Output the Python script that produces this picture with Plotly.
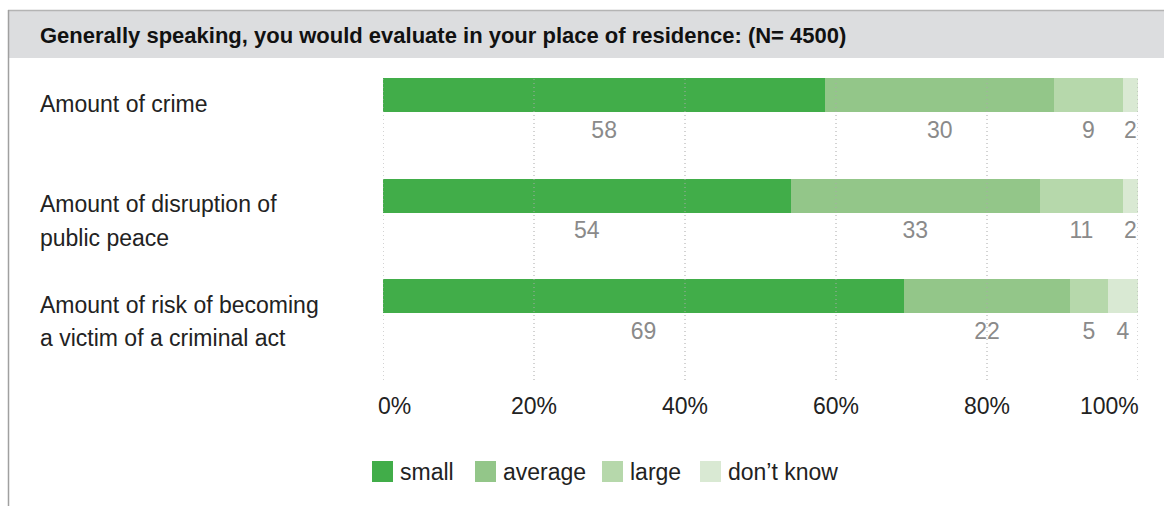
import plotly.graph_objects as go

# ---------------- data ----------------
title_text = "Generally speaking, you would evaluate in your place of residence: (N= 4500)"
categories = [
    "Amount of crime",
    "Amount of disruption of<br>public peace",
    "Amount of risk of becoming<br>a victim of a criminal act",
]
series_names = ["small", "average", "large", "don\u2019t know"]
small = [58, 54, 69]
average = [30, 33, 22]
large = [9, 11, 5]
dont_know = [2, 2, 4]
tick_vals = [0, 20, 40, 60, 80, 100]
tick_labels = ["0%", "20%", "40%", "60%", "80%", "100%"]

# ---------------- styling ----------------
colors = ["#41ad49", "#93c689", "#b6d8ab", "#d9e9d3"]
FONT = "Liberation Sans, Arial, sans-serif"
W, H = 1164, 506
ML, MR, MT, MB = 383, 26, 78, 126
PW, PH = W - ML - MR, H - MT - MB
ROW_PX = 100.5
BAR_PX = 34


def px(x):
    return (x - ML) / PW


def py(y):
    return (H - MB - y) / PH


series = [small, average, large, dont_know]
n = len(categories)
rows = list(range(n))
bar_w = BAR_PX / ROW_PX
y_top = -bar_w / 2
y_bot = y_top + PH / ROW_PX

fig = go.Figure()
for name, vals, col in zip(series_names, series, colors):
    fig.add_trace(go.Bar(
        y=rows, x=vals, orientation="h", name=name, width=bar_w,
        marker=dict(color=col, line=dict(width=0)), showlegend=False,
        hoverinfo="skip",
    ))

# value labels below each segment (at segment midpoints, normalised to 100%)
totals = [sum(s[i] for s in series) for i in rows]
cum = [0.0] * n
for vals in series:
    mids, texts = [], []
    for i in rows:
        v = vals[i] / totals[i] * 100
        mids.append(cum[i] + v / 2)
        cum[i] += v
        texts.append(str(vals[i]))
    fig.add_trace(go.Scatter(
        x=mids, y=[i + 37 / ROW_PX for i in rows], mode="text", text=texts,
        textfont=dict(family=FONT, size=23, color="#8a8a8a"),
        showlegend=False, hoverinfo="skip", cliponaxis=False,
    ))

shapes = []
annotations = []

# header band and frame lines
shapes.append(dict(type="rect", xref="paper", yref="paper",
                   x0=px(8), x1=px(W + 2), y0=py(58), y1=py(10),
                   fillcolor="#dcdddf", line=dict(width=0), layer="below"))
shapes.append(dict(type="line", xref="paper", yref="paper",
                   x0=px(8), x1=px(W + 2), y0=py(10.5), y1=py(10.5),
                   line=dict(color="#b4b4b4", width=1.5)))
shapes.append(dict(type="line", xref="paper", yref="paper",
                   x0=px(8.5), x1=px(8.5), y0=py(10), y1=py(H + 2),
                   line=dict(color="#a0a0a0", width=1.5)))

annotations.append(dict(
    text="<b>" + title_text + "</b>", xref="paper", yref="paper",
    x=px(38), y=py(36), xanchor="left", yanchor="middle", showarrow=False,
    font=dict(family=FONT, size=22, color="#111111"),
))

# dotted gridlines above bars
for t in tick_vals:
    shapes.append(dict(type="line", xref="x", yref="paper", x0=t, x1=t,
                       y0=0, y1=1, layer="above",
                       line=dict(color="#a8a8a8", width=1, dash="1px,3px")))

# tick labels
for k, (t, lab) in enumerate(zip(tick_vals, tick_labels)):
    if k == 0:
        anc, shift = "left", -7
    elif k == len(tick_vals) - 1:
        anc, shift = "right", 3
    else:
        anc, shift = "center", 0
    annotations.append(dict(
        text=lab, xref="x", yref="paper", x=t, y=py(406), xanchor=anc,
        xshift=shift, yanchor="middle", showarrow=False,
        font=dict(family=FONT, size=23, color="#222222"),
    ))

# category labels (top-aligned with bars)
for i, cat in enumerate(categories):
    for k, line in enumerate(cat.split("<br>")):
        annotations.append(dict(
            text=line, xref="paper", yref="y", x=px(38),
            y=i + (8.5 + 33.5 * k) / ROW_PX, xanchor="left",
            yanchor="middle", showarrow=False,
            font=dict(family=FONT, size=23, color="#222222"),
        ))

# manual legend
legend_x = [372, 475, 602, 700]
for name, col, lx in zip(series_names, colors, legend_x):
    shapes.append(dict(type="rect", xref="paper", yref="paper",
                       x0=px(lx), x1=px(lx + 21), y0=py(482), y1=py(461),
                       fillcolor=col, line=dict(width=0)))
    annotations.append(dict(
        text=name, xref="paper", yref="paper", x=px(lx + 26), y=py(472),
        xanchor="left", yanchor="middle", showarrow=False,
        font=dict(family=FONT, size=23, color="#222222"),
    ))

fig.update_layout(
    width=W, height=H,
    margin=dict(l=ML, r=MR, t=MT, b=MB, autoexpand=False),
    paper_bgcolor="white", plot_bgcolor="white",
    barmode="stack", barnorm="percent", bargap=0,
    xaxis=dict(range=[0, 100], showgrid=False, zeroline=False,
               showticklabels=False, showline=False, fixedrange=True),
    yaxis=dict(range=[y_bot, y_top], showgrid=False, zeroline=False,
               showticklabels=False, showline=False, fixedrange=True),
    shapes=shapes, annotations=annotations,
    font=dict(family=FONT),
)

fig.write_html(
    "out.html",
    config={"displayModeBar": False},
    post_script="document.body.style.margin='0';document.body.style.overflow='hidden';",
)
